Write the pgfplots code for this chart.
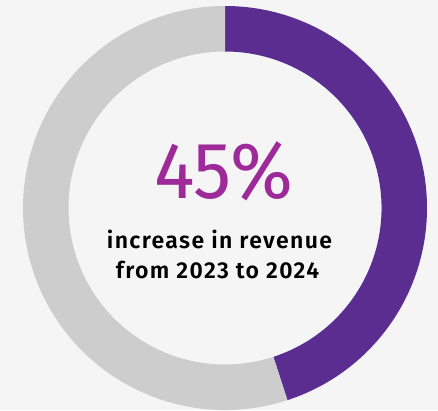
\documentclass[border=0pt]{standalone}
\usepackage{fontspec}
\setmainfont{Fira Sans}
\newfontfamily\numfont{Fira Sans}
\newfontfamily\semifont{Fira Sans SemiBold}[LetterSpace=6]
\usepackage{pgfplots}
\usepackage{pgfplotstable}
\pgfplotsset{compat=1.18}
\definecolor{bg}{HTML}{F5F5F5}
\definecolor{ringpurple}{HTML}{5C2D91}
\definecolor{ringgray}{HTML}{CDCDCD}
\definecolor{numpurple}{HTML}{9E2A9A}
\pgfplotstableread{
label value
Increase 45
Rest 55
}\donutdata
\pgfplotstablegetelem{0}{value}\of\donutdata \let\vA\pgfplotsretval
\pgfplotstablegetelem{1}{value}\of\donutdata \let\vB\pgfplotsretval
\begin{document}
\begin{tikzpicture}
\begin{axis}[
  hide axis, scale only axis,
  x=1pt, y=1pt,
  xmin=-225, xmax=213, ymin=-202, ymax=208,
  clip=true,
]
\pgfmathsetmacro\Ro{202}
\pgfmathsetmacro\Ri{156.5}
\pgfmathsetmacro\endang{90-360*\vA/(\vA+\vB)}
\fill[bg] (rel axis cs:0,0) rectangle (rel axis cs:1,1);
% purple segment (clockwise from top)
\fill[ringpurple] (axis cs:0,\Ro) arc[start angle=90, end angle=\endang, radius=\Ro pt]
  -- (axis cs:{\Ri*cos(\endang)},{\Ri*sin(\endang)}) arc[start angle=\endang, end angle=90, radius=\Ri pt] -- cycle;
% gray segment
\fill[ringgray] (axis cs:{\Ro*cos(\endang)},{\Ro*sin(\endang)}) arc[start angle=\endang, end angle=-270, radius=\Ro pt]
  -- (axis cs:0,\Ri) arc[start angle=90, end angle={\endang+360}, radius=\Ri pt] -- cycle;
\node[anchor=base, text=numpurple, font=\numfont\fontsize{80}{80}\selectfont, inner sep=0pt, xscale=0.95] at (axis cs:-1.5,10) {\vA\%};
\node[anchor=base, font=\semifont\fontsize{23}{30}\selectfont, inner sep=0pt] at (axis cs:-5.5,-40) {increase in revenue};
\node[anchor=base, font=\semifont\fontsize{23}{30}\selectfont, inner sep=0pt] at (axis cs:-7.5,-70) {from 2023 to 2024};
\end{axis}
\end{tikzpicture}
\end{document}
